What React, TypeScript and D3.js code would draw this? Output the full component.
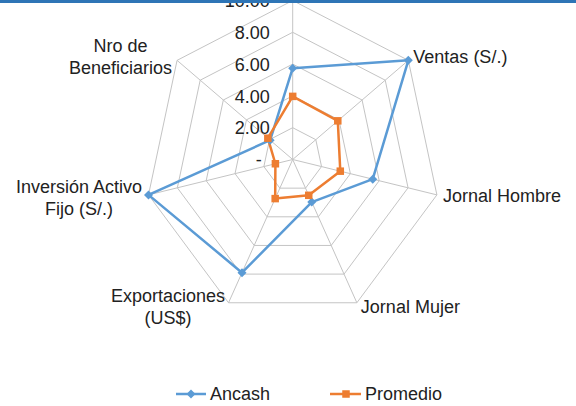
import React from "react";
import * as d3 from "d3";

const categories = [
  "",
  "Ventas (S/.)",
  "Jornal Hombre",
  "Jornal Mujer",
  "Exportaciones\n(US$)",
  "Inversión Activo\nFijo (S/.)",
  "Nro de\nBeneficiarios",
];
const ancash = [5.74, 10, 5.55, 2.97, 7.9, 10, 1.95];
const promedio = [3.97, 3.9, 3.3, 2.5, 2.73, 1.2, 2.15];
const tickValues = [0, 2, 4, 6, 8, 10];
const tickLabels = ["-", "2.00", "4.00", "6.00", "8.00", "10.00"];
const seriesNames = ["Ancash", "Promedio"];

// layout (label offsets relative to the axis end, anchor)
const labelLayout = [
  { dx: 0, dy: -10, anchor: "middle" },
  { dx: 5, dy: 3, anchor: "start" },
  { dx: 6, dy: 7, anchor: "start" },
  { dx: 4, dy: 10.5, anchor: "start" },
  { dx: -60.5, dy: -1, anchor: "middle" },
  { dx: -69.5, dy: -2.2, anchor: "middle" },
  { dx: -56.6, dy: -8.7, anchor: "middle" },
];

const W = 576;
const H = 406;
const cx = 292.7;
const cy = 159.5;
const BLUE = "#5b9bd5";
const ORANGE = "#ed7d31";
const GRID = "#c4c4c4";
const FONT = "'Liberation Sans', Arial, sans-serif";

export default function App() {
  const n = categories.length;
  const rx = d3.scaleLinear().domain([0, 10]).range([0, 147.9]);
  const ry = d3.scaleLinear().domain([0, 10]).range([0, 159]);
  const ang = d3
    .scaleLinear()
    .domain([0, n])
    .range([0, 2 * Math.PI]);
  const pt = (i: number, v: number): [number, number] => [
    cx + rx(v) * Math.sin(ang(i)),
    cy - ry(v) * Math.cos(ang(i)),
  ];
  const line = d3
    .line<[number, number]>()
    .x((d) => d[0])
    .y((d) => d[1])
    .curve(d3.curveLinearClosed);
  const idx = d3.range(n);

  const seriesPts = [ancash, promedio].map((vals) =>
    vals.map((v, i) => pt(i, v))
  );

  return (
    <svg
      width={W}
      height={H}
      style={{ position: "absolute", left: 0, top: 0, background: "#fff" }}
      fontFamily={FONT}
    >
      <rect x={0} y={0} width={W} height={H} fill="#fff" />
      {/* grid rings */}
      {tickValues.slice(1).map((t) => (
        <path
          key={"ring" + t}
          d={line(idx.map((i) => pt(i, t))) || ""}
          fill="none"
          stroke={GRID}
          strokeWidth={1}
        />
      ))}
      {/* spokes */}
      {idx.map((i) => {
        const [x, y] = pt(i, 10);
        return (
          <line key={"sp" + i} x1={cx} y1={cy} x2={x} y2={y} stroke={GRID} strokeWidth={1} />
        );
      })}
      {/* tick labels */}
      {tickValues.map((t, k) => (
        <text
          key={"tl" + t}
          x={cx - 23 - (tickLabels[k] === "-" ? 8 : 0)}
          y={cy - ry(t) + 6.7}
          textAnchor="end"
          fontSize={18}
          fill="#222"
        >
          {tickLabels[k]}
        </text>
      ))}
      {/* category labels */}
      {categories.map((c, i) => {
        const [x, y] = pt(i, 10);
        const L = labelLayout[i];
        const lines = c.split("\n");
        return (
          <text
            key={"cat" + i}
            x={x + L.dx}
            y={y + L.dy}
            textAnchor={L.anchor as any}
            fontSize={18}
            fill="#222"
          >
            {lines.map((s, j) => (
              <tspan key={j} x={x + L.dx} dy={j === 0 ? 0 : 22}>
                {s}
              </tspan>
            ))}
          </text>
        );
      })}
      {/* series */}
      {seriesPts.map((pts, s) => (
        <path
          key={"ser" + s}
          d={line(pts) || ""}
          fill="none"
          stroke={s === 0 ? BLUE : ORANGE}
          strokeWidth={2.5}
          strokeLinejoin="round"
        />
      ))}
      {seriesPts[0].map(([x, y], i) => (
        <path
          key={"d" + i}
          d={`M${x},${y - 4.5}L${x + 4.5},${y}L${x},${y + 4.5}L${x - 4.5},${y}Z`}
          fill={BLUE}
        />
      ))}
      {seriesPts[1].map(([x, y], i) => (
        <rect key={"s" + i} x={x - 3.75} y={y - 3.75} width={7.5} height={7.5} fill={ORANGE} />
      ))}
      {/* legend */}
      <g>
        <line x1={176} x2={206} y1={394} y2={394} stroke={BLUE} strokeWidth={2.5} />
        <path d="M191,389.5L195.5,394L191,398.5L186.5,394Z" fill={BLUE} />
        <text x={210} y={399.5} fontSize={18} fill="#222">
          {seriesNames[0]}
        </text>
        <line x1={330} x2={361} y1={394} y2={394} stroke={ORANGE} strokeWidth={2.5} />
        <rect x={342.25} y={390.25} width={7.5} height={7.5} fill={ORANGE} />
        <text x={365} y={399.5} fontSize={18} fill="#222">
          {seriesNames[1]}
        </text>
      </g>
      <rect x={0} y={0} width={W} height={3} fill="#2e75b6" />
    </svg>
  );
}
